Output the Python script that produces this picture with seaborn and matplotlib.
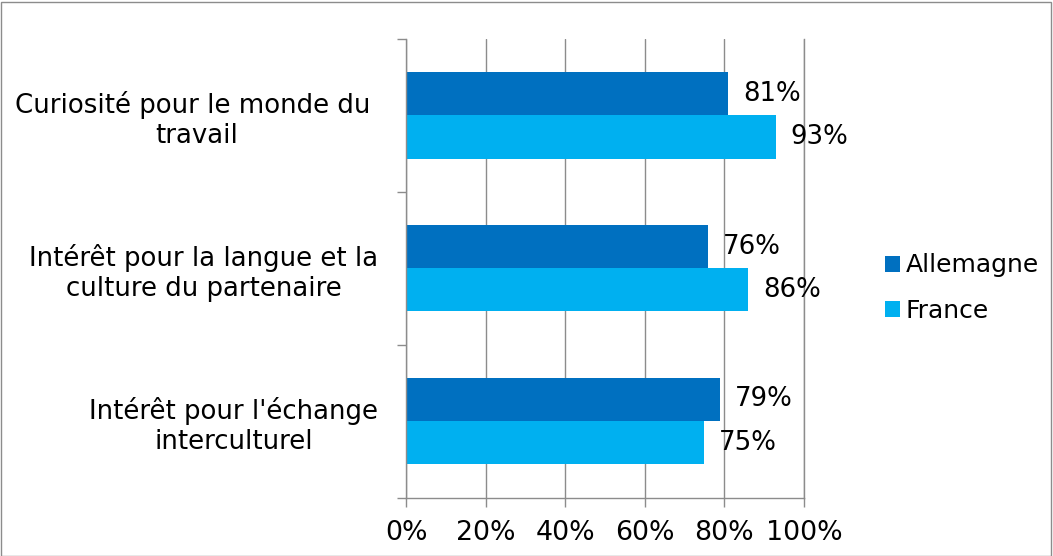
import numpy as np
import pandas as pd
import matplotlib
matplotlib.use('Agg')
import matplotlib.pyplot as plt
import seaborn as sns
from matplotlib.patches import Rectangle
from matplotlib.ticker import FixedLocator

# Data
categories = ["Curiosité pour le monde du \ntravail",
              "Intérêt pour la langue et la\nculture du partenaire",
              "Intérêt pour l'échange\ninterculturel"]
countries = ["Allemagne", "France"]
allemagne = [81, 76, 79]
france = [93, 86, 75]
colors = ["#0070C0", "#00B0F0"]

df = pd.DataFrame({
    'categorie': categories * 2,
    'pays': [countries[0]] * 3 + [countries[1]] * 3,
    'valeur': allemagne + france,
})

sns.set_style('white')
plt.rcParams['font.family'] = ['DejaVu Sans']

fig = plt.figure(figsize=(10.53, 5.56), dpi=100)
ax = fig.add_axes([0.3856, 0.1052, 0.7635 - 0.3856, 0.9299 - 0.1052])

sns.barplot(data=df, x='valeur', y='categorie', hue='pays', order=categories,
            hue_order=countries, palette=colors, orient='h', width=0.565,
            saturation=1, linewidth=0, ax=ax, legend=True)

# value labels
for cont in ax.containers:
    ax.bar_label(cont, fmt='%d%%', padding=10.5, fontsize=18.7, color='black')

ax.set_xlim(0, 100)
ax.set_ylim(2.5, -0.5)
ax.set_xticks(np.arange(0, 101, 20))
ax.set_xticklabels([f'{v}%' for v in range(0, 101, 20)], fontsize=19.3)
ax.set_xlabel('')
ax.set_ylabel('')

# category labels: right-aligned block, centered lines
ax.set_yticks(range(len(categories)))
ax.set_yticklabels(categories, fontsize=18.7)
for lbl in ax.get_yticklabels():
    lbl.set_multialignment('center')
ax.yaxis.set_minor_locator(FixedLocator([-0.5, 0.5, 1.5, 2.5]))
ax.tick_params(axis='y', which='major', length=0, pad=20, colors='black')
ax.tick_params(axis='y', which='minor', length=6.5, width=1, color='#8c8c8c', direction='out', left=True)
ax.tick_params(axis='x', which='major', length=6.5, width=1, color='#8c8c8c', direction='out',
               bottom=True, pad=10, labelcolor='black')

ax.grid(axis='x', color='#8c8c8c', linewidth=1)
ax.set_axisbelow(True)
ax.spines['top'].set_visible(False)
for s in ['left', 'bottom', 'right']:
    ax.spines[s].set_color('#8c8c8c')
    ax.spines[s].set_linewidth(1)

# legend
handles, labels = ax.get_legend_handles_labels()
ax.legend(handles, labels, loc='center left', bbox_to_anchor=(0.829, 0.482),
          bbox_transform=fig.transFigure, frameon=False, fontsize=18, labelcolor='black',
          handlelength=0.6, handleheight=0.6, handletextpad=0.2, labelspacing=0.85,
          borderpad=0)

# outer border of the chart area
fig.patches.append(Rectangle((0.001, 0.0), 0.997, 0.997, transform=fig.transFigure,
                             fill=False, edgecolor='#8c8c8c', linewidth=1))

fig.savefig('out.png', dpi=100)
